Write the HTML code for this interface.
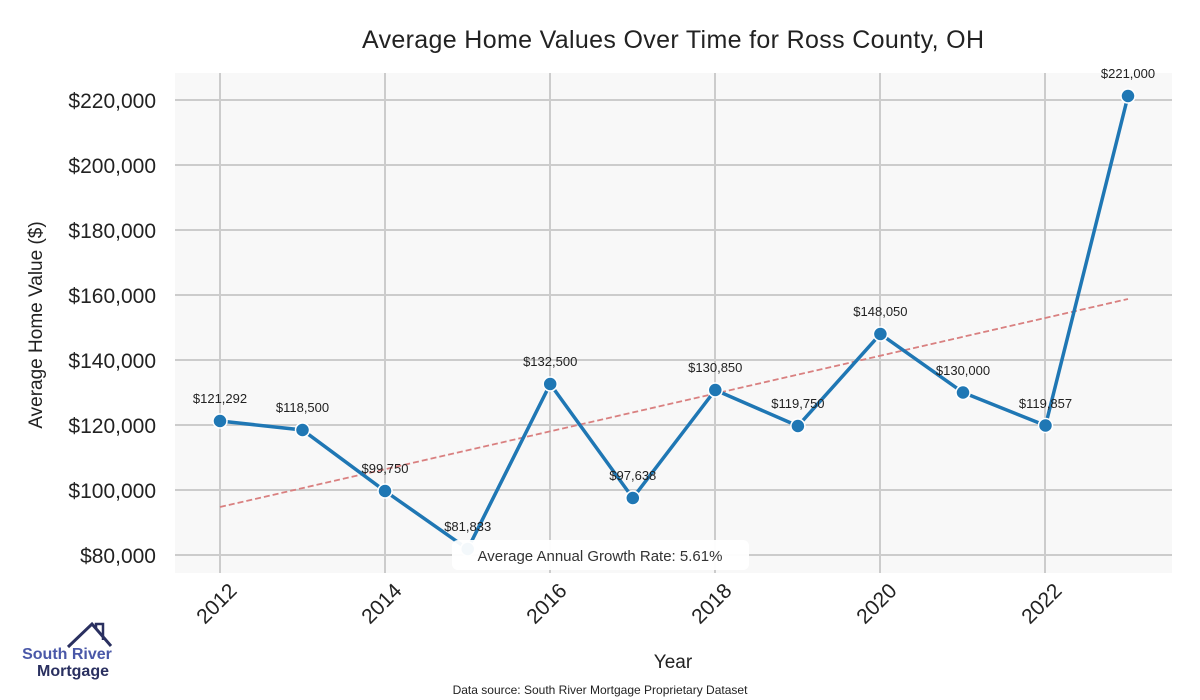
<!DOCTYPE html><html><head><style>body{margin:0;background:#fff}svg{display:block;font-family:"Liberation Sans",sans-serif}</style></head><body>
<svg width="1200" height="700" viewBox="0 0 1200 700">
<rect x="175" y="73" width="997" height="500" fill="#f8f8f8"/>
<g stroke="#cccccc" stroke-width="2">
<line x1="175" x2="1172" y1="100" y2="100"/><line x1="175" x2="1172" y1="165" y2="165"/><line x1="175" x2="1172" y1="230" y2="230"/><line x1="175" x2="1172" y1="295" y2="295"/><line x1="175" x2="1172" y1="360" y2="360"/><line x1="175" x2="1172" y1="425" y2="425"/><line x1="175" x2="1172" y1="490" y2="490"/><line x1="175" x2="1172" y1="555" y2="555"/>
<line y1="73" y2="573" x1="220" x2="220"/><line y1="73" y2="573" x1="385" x2="385"/><line y1="73" y2="573" x1="550" x2="550"/><line y1="73" y2="573" x1="715" x2="715"/><line y1="73" y2="573" x1="880" x2="880"/><line y1="73" y2="573" x1="1045" x2="1045"/>
</g>
<line x1="220" y1="507" x2="1128" y2="299" stroke="#d98080" stroke-width="1.8" stroke-dasharray="6,3"/>
<polyline fill="none" stroke="#1f77b4" stroke-width="3.5" points="220,421 302.5,430 385,491 467.7,549 550.2,384 632.8,498 715.3,390 797.9,426 880.4,334 963,392.5 1045.5,425.5 1128,96"/>
<g fill="#1f77b4" stroke="#fff" stroke-width="1.5">
<circle cx="220" cy="421" r="7"/><circle cx="302.5" cy="430" r="7"/><circle cx="385" cy="491" r="7"/><circle cx="467.7" cy="549" r="7"/><circle cx="550.2" cy="384" r="7"/><circle cx="632.8" cy="498" r="7"/><circle cx="715.3" cy="390" r="7"/><circle cx="797.9" cy="426" r="7"/><circle cx="880.4" cy="334" r="7"/><circle cx="963" cy="392.5" r="7"/><circle cx="1045.5" cy="425.5" r="7"/><circle cx="1128" cy="96" r="7"/>
</g>
<g font-size="13" fill="#222" text-anchor="middle">
<text x="220" y="403">$121,292</text><text x="302.5" y="412">$118,500</text><text x="385" y="473">$99,750</text><text x="467.7" y="531">$81,833</text><text x="550.2" y="366">$132,500</text><text x="632.8" y="480">$97,638</text><text x="715.3" y="372">$130,850</text><text x="797.9" y="408">$119,750</text><text x="880.4" y="316">$148,050</text><text x="963" y="375">$130,000</text><text x="1045.5" y="408">$119,857</text><text x="1128" y="78">$221,000</text>
</g>
<rect x="452" y="540" width="297" height="30" rx="6" fill="#fff" opacity="0.95"/>
<text x="600" y="561" font-size="15" fill="#333" text-anchor="middle">Average Annual Growth Rate: 5.61%</text>
<g font-size="21" fill="#222" text-anchor="end">
<text x="156" y="108">$220,000</text><text x="156" y="173">$200,000</text><text x="156" y="238">$180,000</text><text x="156" y="303">$160,000</text><text x="156" y="368">$140,000</text><text x="156" y="433">$120,000</text><text x="156" y="498">$100,000</text><text x="156" y="563">$80,000</text>
</g>
<g font-size="21" fill="#222" text-anchor="end">
<text transform="translate(238,592) rotate(-45)">2012</text><text transform="translate(403,592) rotate(-45)">2014</text><text transform="translate(568,592) rotate(-45)">2016</text><text transform="translate(733,592) rotate(-45)">2018</text><text transform="translate(898,592) rotate(-45)">2020</text><text transform="translate(1063,592) rotate(-45)">2022</text>
</g>
<text x="673" y="48" font-size="25" fill="#222" text-anchor="middle" textLength="622">Average Home Values Over Time for Ross County, OH</text>
<text x="673" y="668" font-size="19" fill="#222" text-anchor="middle">Year</text>
<text transform="translate(42,325) rotate(-90)" font-size="19" fill="#222" text-anchor="middle">Average Home Value ($)</text>
<text x="600" y="694" font-size="12" fill="#222" text-anchor="middle">Data source: South River Mortgage Proprietary Dataset</text>
<polyline points="68,647 92,624 111,646" fill="none" stroke="#2a3060" stroke-width="3"/>
<polyline points="96,628 96,624 103,624 103,640" fill="none" stroke="#2a3060" stroke-width="2.5"/>
<text x="67" y="659" font-size="16" font-weight="bold" fill="#4a58a8" text-anchor="middle">South River</text>
<text x="73" y="676" font-size="16" font-weight="bold" fill="#2a3060" text-anchor="middle">Mortgage</text>
</svg></body></html>
